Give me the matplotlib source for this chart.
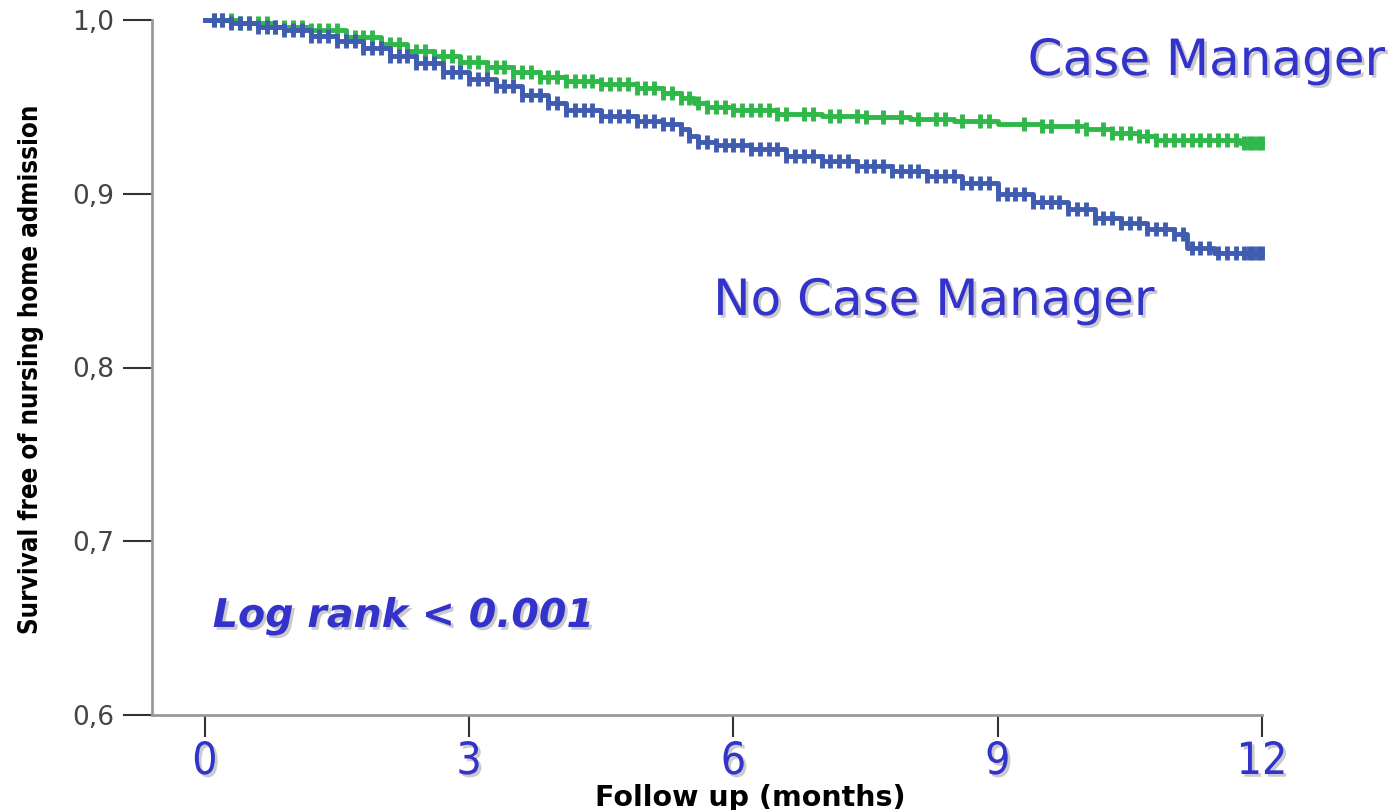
import matplotlib.pyplot as plt
import matplotlib.patheffects as pe
import numpy as np

# Kaplan-Meier steps (months, survival)
cm_times = [0, 0.4, 0.8, 1.2, 1.6, 2.0, 2.3, 2.6, 2.9, 3.2, 3.5, 3.8, 4.1, 4.5, 4.9,
            5.2, 5.4, 5.55, 5.7, 6.0, 6.5, 7.0, 7.5, 8.0, 8.5, 9.0, 9.5, 10.0, 10.3,
            10.6, 10.8, 11.75, 12.0]
cm_surv = [1.0, 0.998, 0.996, 0.994, 0.990, 0.986, 0.982, 0.979, 0.976, 0.973, 0.970,
           0.967, 0.965, 0.963, 0.961, 0.958, 0.955, 0.952, 0.950, 0.948, 0.946, 0.945,
           0.944, 0.943, 0.942, 0.940, 0.939, 0.937, 0.935, 0.933, 0.931, 0.929, 0.929]

nocm_times = [0, 0.3, 0.6, 0.9, 1.2, 1.5, 1.8, 2.1, 2.4, 2.7, 3.0, 3.3, 3.6, 3.9, 4.1,
              4.5, 4.9, 5.2, 5.4, 5.5, 5.6, 5.8, 6.2, 6.6, 7.0, 7.4, 7.8, 8.2, 8.6,
              9.0, 9.4, 9.8, 10.1, 10.4, 10.7, 11.0, 11.15, 11.45, 12.0]
nocm_surv = [1.0, 0.998, 0.996, 0.994, 0.991, 0.988, 0.984, 0.979, 0.975, 0.970, 0.966,
             0.962, 0.957, 0.952, 0.948, 0.945, 0.942, 0.940, 0.937, 0.933, 0.930, 0.928,
             0.926, 0.922, 0.919, 0.916, 0.913, 0.910, 0.906, 0.900, 0.895, 0.891, 0.886,
             0.883, 0.880, 0.877, 0.869, 0.866, 0.866]

# censored observations
cm_censor = [0.1, 0.2, 0.3, 0.4, 0.5, 0.6, 0.7, 0.8, 0.9, 1.0, 1.1, 1.2, 1.3, 1.4, 1.5,
             1.6, 1.7, 1.8, 1.9, 2.0, 2.1, 2.2, 2.3, 2.4, 2.5, 2.6, 2.7, 2.8, 2.9, 3.0,
             3.1, 3.2, 3.3, 3.4, 3.5, 3.6, 3.7, 3.8, 3.9, 4.0, 4.1, 4.2, 4.3, 4.4, 4.5,
             4.6, 4.7, 4.8, 4.9, 5.0, 5.1, 5.2, 5.3, 5.4, 5.5, 5.6, 5.7, 5.8, 5.9, 6.0,
             6.1, 6.2, 6.3, 6.4, 6.5, 6.6, 6.8, 6.9, 7.1, 7.2, 7.4, 7.5, 7.7, 7.9, 8.1,
             8.3, 8.4, 8.6, 8.8, 8.9, 9.3, 9.5, 9.6, 9.9, 10.0, 10.2, 10.3, 10.4, 10.5,
             10.6, 10.7, 10.8, 10.9, 11.0, 11.1, 11.2, 11.3, 11.4, 11.5, 11.6, 11.7, 11.8,
             11.85, 11.9, 11.95, 12.0]
nocm_censor = [0.1, 0.2, 0.3, 0.4, 0.5, 0.6, 0.7, 0.8, 0.9, 1.0, 1.1, 1.2, 1.3, 1.4, 1.5,
               1.6, 1.7, 1.8, 1.9, 2.0, 2.1, 2.2, 2.3, 2.4, 2.5, 2.6, 2.7, 2.8, 2.9, 3.0,
               3.1, 3.2, 3.3, 3.4, 3.5, 3.6, 3.7, 3.8, 3.9, 4.0, 4.1, 4.2, 4.3, 4.4, 4.5,
               4.6, 4.7, 4.8, 4.9, 5.0, 5.1, 5.2, 5.3, 5.4, 5.5, 5.6, 5.7, 5.8, 5.9, 6.0,
               6.1, 6.2, 6.3, 6.4, 6.5, 6.6, 6.7, 6.8, 6.9, 7.0, 7.1, 7.2, 7.3, 7.4, 7.5,
               7.6, 7.7, 7.8, 7.9, 8.0, 8.1, 8.2, 8.3, 8.4, 8.5, 8.6, 8.7, 8.8, 8.9, 9.0,
               9.1, 9.2, 9.3, 9.4, 9.5, 9.6, 9.7, 9.8, 9.9, 10.0, 10.1, 10.2, 10.3, 10.4,
               10.5, 10.6, 10.7, 10.8, 10.9, 11.0, 11.1, 11.2, 11.3, 11.4, 11.5, 11.6,
               11.7, 11.8, 11.85, 11.9, 11.95, 12.0]

x_ticks = [0, 3, 6, 9, 12]
y_ticks = [0.6, 0.7, 0.8, 0.9, 1.0]
y_ticklabels = ["0,6", "0,7", "0,8", "0,9", "1,0"]

green = "#2FB84A"
blue = "#3F5CB0"
text_blue = "#3333CC"
shadow = [pe.SimplePatchShadow(offset=(2, -2), shadow_rgbFace="#999999", alpha=0.5), pe.Normal()]


def step_value(times, surv, t):
    idx = np.searchsorted(times, t, side="right") - 1
    return np.array(surv)[idx]


W, H = 1397, 810
fig = plt.figure(figsize=(W / 100, H / 100), dpi=100)
ax = fig.add_axes([152 / W, 1 - 715 / H, (1262 - 152) / W, (715 - 20) / H])

for times, surv, censor, col in [(cm_times, cm_surv, cm_censor, green),
                                 (nocm_times, nocm_surv, nocm_censor, blue)]:
    ax.plot(times, surv, drawstyle="steps-post", color=col, lw=3.5, clip_on=False)
    ax.plot(censor, step_value(times, surv, censor), ls="none", marker="|",
            ms=10, mew=3.5, color=col, clip_on=False)

ax.set_xlim(-0.6, 12)
ax.set_ylim(0.6, 1.0)
ax.set_xticks(x_ticks)
ax.set_yticks(y_ticks)
ax.set_yticklabels(y_ticklabels)

for s in ["top", "right"]:
    ax.spines[s].set_visible(False)
for s in ["left", "bottom"]:
    ax.spines[s].set_color("#999999")
    ax.spines[s].set_linewidth(2)

ax.tick_params(axis="x", length=16, width=1.5, color="#333333", pad=2,
               labelsize=32, labelcolor=text_blue)
ax.tick_params(axis="y", length=21, width=1.5, color="#333333", pad=6,
               labelsize=19, labelcolor="#444444")
for lab in ax.get_xticklabels():
    lab.set_fontstretch("condensed")
    lab.set_path_effects(shadow)

ax.text(9.34, 0.9764, "Case Manager", fontsize=36, color=text_blue, ha="left",
        va="center", path_effects=shadow, clip_on=False)
ax.text(5.77, 0.8383, "No Case Manager", fontsize=36, color=text_blue, ha="left",
        va="center", path_effects=shadow, clip_on=False)
ax.text(0.09, 0.657, "Log rank < 0.001", fontsize=28.5, color=text_blue, ha="left",
        va="center", style="italic", weight="bold", path_effects=shadow)

fig.text(31 / W, 1 - 369 / H, "Survival free of nursing home admission", rotation=90,
         ha="center", va="center", fontsize=18.5, weight="bold", fontstretch="condensed")
fig.text(750 / W, 1 - 798 / H, "Follow up (months)", ha="center", va="center",
         fontsize=20.5, weight="bold")

fig.savefig("out.png", dpi=100)
